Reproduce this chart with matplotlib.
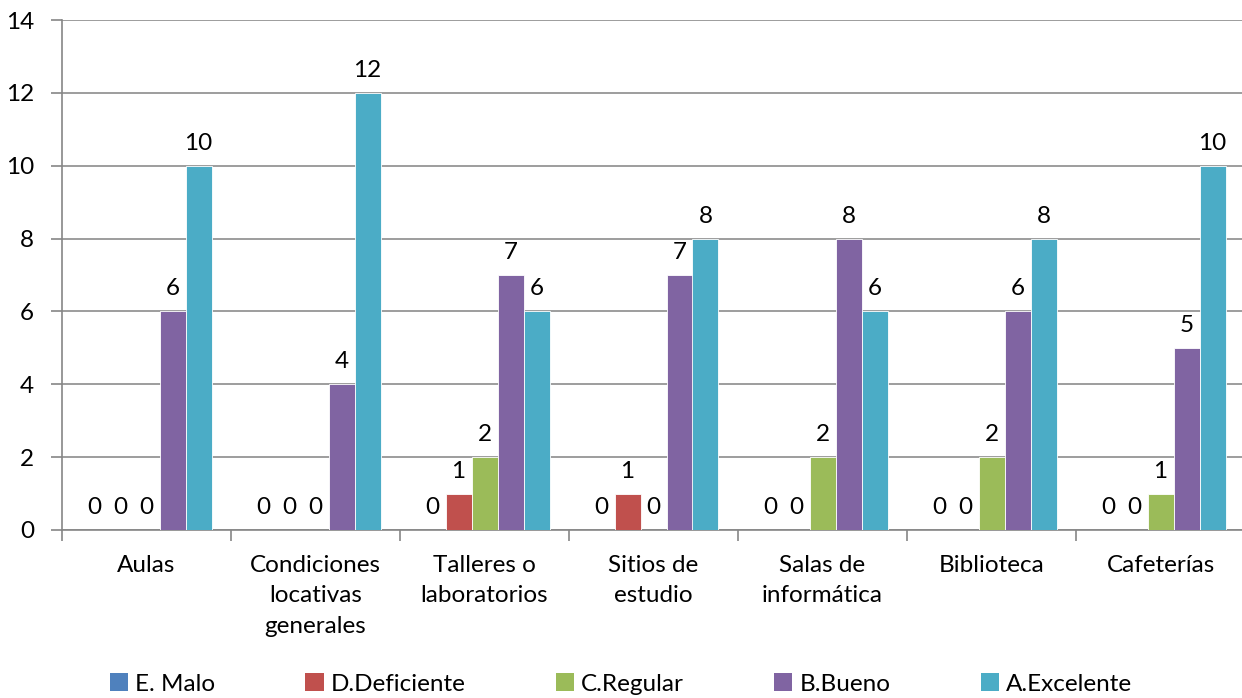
import matplotlib
matplotlib.use("Agg")
import matplotlib.pyplot as plt
import numpy as np
from matplotlib.patches import Patch

categories = ["Aulas", "Condiciones\nlocativas\ngenerales", "Talleres o\nlaboratorios",
              "Sitios de\nestudio", "Salas de\ninformática", "Biblioteca", "Cafeterías"]
series_names = ["E. Malo", "D.Deficiente", "C.Regular", "B.Bueno", "A.Excelente"]
e_malo = [0, 0, 0, 0, 0, 0, 0]
d_deficiente = [0, 0, 1, 1, 0, 0, 0]
c_regular = [0, 0, 2, 0, 2, 2, 1]
b_bueno = [6, 4, 7, 7, 8, 6, 5]
a_excelente = [10, 12, 6, 8, 6, 8, 10]
series = [e_malo, d_deficiente, c_regular, b_bueno, a_excelente]
colors = ["#4F81BD", "#C0504D", "#9BBB59", "#8064A2", "#4BACC6"]

plt.rcParams['font.family'] = ['Lato', 'DejaVu Sans']
FS = 17.5

fig = plt.figure(figsize=(12.42, 6.98), dpi=100)
W, H = 1242, 698
left, right, top, bottom = 62, 1245, 20, 530
ax = fig.add_axes([left / W, 1 - bottom / H, (right - left) / W, (bottom - top) / H])

n = len(categories)
ns = len(series)
bw = 1 / (ns + 1.5)
x = np.arange(n)
for i, (vals, c) in enumerate(zip(series, colors)):
    pos = x - 0.5 + 0.75 * bw + (i + 0.5) * bw
    ax.bar(pos, vals, width=bw, color=c, edgecolor="white", linewidth=0.6, zorder=3)
    for p, v in zip(pos, vals):
        ax.text(p, v + 0.33, str(v), ha="center", va="bottom", fontsize=FS, color="black", zorder=4)

ax.set_xlim(-0.5, n - 0.5)
ax.set_ylim(0, 14)
ax.set_yticks(range(0, 15, 2))
ax.yaxis.grid(True, color="#8c8c8c", linewidth=1.2, zorder=0)
ax.set_axisbelow(True)
ax.set_xticks(np.arange(-0.5, n, 1))
ax.set_xticklabels([])
ax.set_xticks(x, minor=True)
ax.set_xticklabels(categories, minor=True, fontsize=FS, linespacing=1.55)
ax.tick_params(axis="x", which="minor", length=0, pad=18)
ax.tick_params(axis="x", which="major", length=8, color="#868686", width=1.2, direction="out")
ax.tick_params(axis="y", length=8, color="#868686", width=1.2, labelsize=FS, pad=12)
for s in ["top", "right"]:
    ax.spines[s].set_visible(False)
for s in ["left", "bottom"]:
    ax.spines[s].set_color("#868686")
    ax.spines[s].set_linewidth(1.2)

handles = [Patch(facecolor=c, edgecolor="none") for c in colors]
fig.legend(handles, series_names, loc="center", bbox_to_anchor=(0.5, 1 - 684 / H), ncol=5,
           frameon=False, fontsize=FS, handlelength=0.75, handleheight=0.75,
           handletextpad=0.3, columnspacing=3.7)

fig.savefig("out.png", dpi=100)
